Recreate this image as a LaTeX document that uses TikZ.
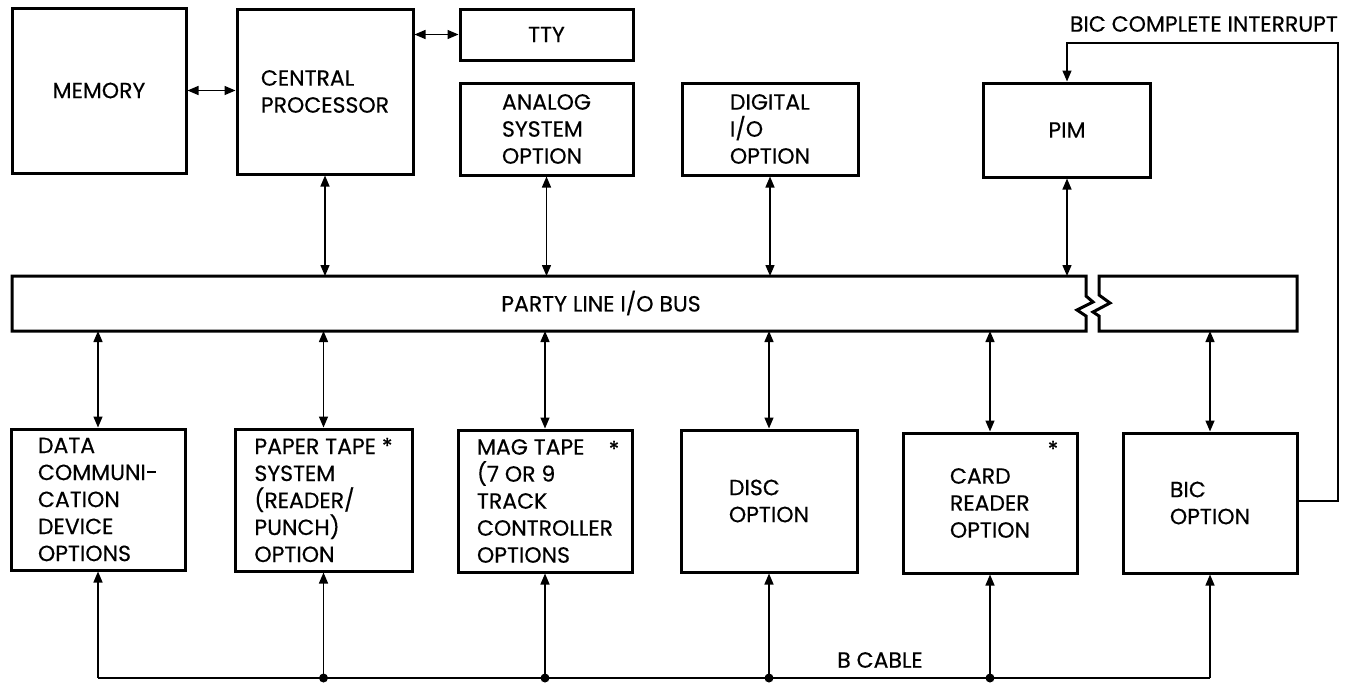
\documentclass[tikz,border=0pt]{standalone}
\usepackage{fontspec}
\setmainfont{Poppins}[FakeBold=0.4]
\usetikzlibrary{arrows.meta}
\begin{document}
\begin{tikzpicture}[x=1pt,y=-1pt,
  >={Triangle[length=11pt,width=9pt]},
  box/.style={draw, line width=3pt, inner sep=0pt, align=left, font=\fontsize{22}{27}\selectfont},
  txt/.style={inner sep=0pt, font=\fontsize{22}{27}\selectfont},
  conn/.style={line width=1.4pt},
  busline/.style={line width=3pt, line join=miter}]
\useasboundingbox (0,0) rectangle (1349,683);
% top row
\node[box, minimum width=174pt, minimum height=165pt] (memory) at (99,90.5) {MEMORY};
\node[box, minimum width=176pt, minimum height=165pt] (cpu) at (325,91.5) {CENTRAL\\PROCESSOR};
\node[box, minimum width=173pt, minimum height=51pt] (tty) at (546.5,34.5) {TTY};
\node[box, minimum width=173pt, minimum height=92pt] (analog) at (546.5,129) {ANALOG\\SYSTEM\\OPTION};
\node[box, minimum width=176pt, minimum height=92pt] (digital) at (770,129) {DIGITAL\\I/O\\OPTION};
\node[box, minimum width=167pt, minimum height=94pt] (pim) at (1067,130) {PIM};
% bottom row
\node[box, minimum width=174pt, minimum height=141pt] (data) at (98,499.5) {DATA\\COMMUNI-\\CATION\\DEVICE\\OPTIONS};
\node[box, minimum width=177pt, minimum height=142pt] (paper) at (323.5,500) {PAPER TAPE *\\SYSTEM\\(READER/\\PUNCH)\\OPTION};
\node[box, minimum width=174pt, minimum height=142pt] (mag) at (545,501) {MAG TAPE\\(7 OR 9\\TRACK\\CONTROLLER\\OPTIONS};
\node[box, minimum width=176pt, minimum height=142pt] (disc) at (769,501) {DISC\\OPTION};
\node[box, minimum width=174pt, minimum height=140pt] (card) at (990,503) {CARD\\READER\\OPTION};
\node[box, minimum width=174pt, minimum height=140pt] (bic) at (1210,503) {BIC\\OPTION};
\node[txt] (magstar) at (614,449) {*};
\node[txt] (cardstar) at (1053,449) {*};
% bus
\draw[busline] (12,276) -- (1086,276) -- (1086,296) -- (1093,302) -- (1077,310) -- (1086,316) -- (1086,331) -- (12,331) -- cycle;
\draw[busline] (1099,276) -- (1297,276) -- (1297,331) -- (1099,331) -- (1099,316) -- (1093,312) -- (1110,303) -- (1099,295) -- cycle;
\coordinate (bustop) at (0,276);
\coordinate (busbot) at (0,331);
\node[txt] (buslabel) at (601,303) {PARTY LINE I/O BUS};
% top connectors
\draw[conn,<->] (memory.east) -- (cpu.west |- memory.east);
\draw[conn,<->] (cpu.east |- tty.west) -- (tty.west);
\draw[conn,<->] (cpu.south) -- (cpu.south |- bustop);
\draw[conn,<->] (analog.south) -- (analog.south |- bustop);
\draw[conn,<->] (digital.south) -- (digital.south |- bustop);
\draw[conn,<->] (pim.south) -- (pim.south |- bustop);
% bottom connectors
\foreach \n in {data,paper,mag,disc,card,bic}
  \draw[conn,<->] (\n.north |- busbot) -- (\n.north);
% interrupt
\coordinate (intr) at (1338,43);
\draw[conn,->] (bic.east |- 0,501) -| (intr) -| (pim.north);
\node[txt, anchor=east] (intlabel) at (1338,24) {BIC COMPLETE INTERRUPT};
% B cable
\coordinate (cable) at (0,678);
\draw[conn] (data.south |- cable) -- (bic.south |- cable);
\foreach \n in {data,paper,mag,disc,card,bic}
  \draw[conn,->] (\n.south |- cable) -- (\n.south);
\foreach \n in {paper,mag,disc,card}
  \fill (\n.south |- cable) circle (4.5pt);
\node[txt] (cablelabel) at (880,660) {B CABLE};
\end{tikzpicture}
\end{document}
